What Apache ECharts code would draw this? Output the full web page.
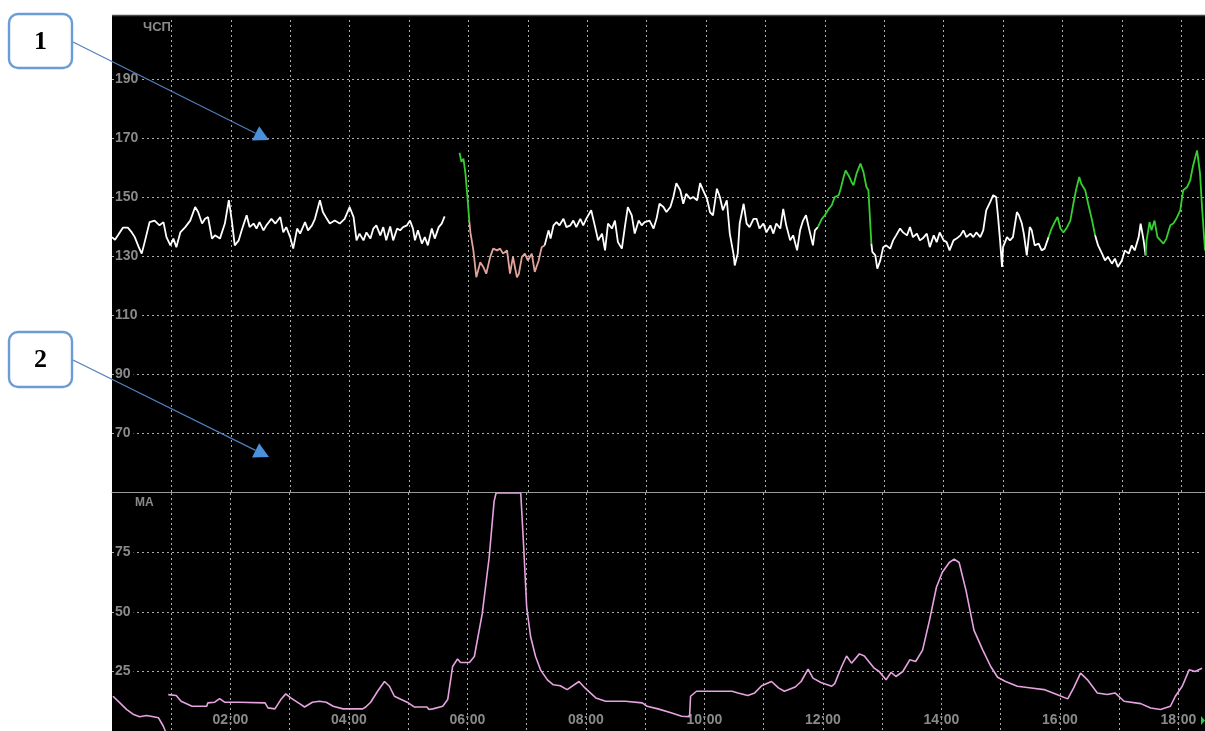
<!DOCTYPE html>
<html><head><meta charset="utf-8">
<script src="https://cdn.jsdelivr.net/npm/echarts@6/dist/echarts.min.js"></script>
<style>html,body{margin:0;padding:0;background:#fff}#c{width:1205px;height:731px}</style>
</head><body><div id="c"></div>
<script>
// Time in minutes from start of recording; FHR in bpm; MA in units (0-100)
const fhrWhite1 = [[0,136.4],[3,135.5],[6,137],[11,139.6],[16,139.6],[20,138],[23,136.4],[27,133],[30,130.8],[33,134.7],[38,141.5],[43,142],[48,140.4],[52,141.5],[55,136.4],[59,133.6],[62,135.9],[65,133],[69,138],[74,139.8],[79,142],[84,146.6],[87,144.9],[91,141],[94,142.6],[97,143.2],[101,135.9],[104,137],[109,135.9],[114,141],[118,148.9],[121,142],[124,133.6],[128,135.3],[131,138.7],[136,143.8],[139,139.8],[143,141],[146,139.3],[149,141.5],[153,138.7],[156,140.4],[161,142.6],[165,141],[170,143.2],[173,138],[176,139.8],[180,136.4],[183,132.5],[187,139.3],[190,137.6],[195,141.5],[198,138.7],[202,140.4],[205,142.6],[210,148.9],[213,144.9],[217,142.6],[220,141],[225,142],[230,141],[235,142.6],[240,146.6],[244,143.2],[247,135.3],[250,137.6],[254,135.3],[257,138],[261,135.9],[264,139.3],[267,140.4],[271,137],[274,139.8],[277,135.3],[281,140],[284,135.3],[288,139.3],[291,138.7],[294,139.8],[298,140.4],[301,142],[304,139.3],[306,135.3],[309,138.7],[313,134.2],[316,136.4],[319,133.6],[323,139.3],[326,135.9],[330,139.8],[333,141],[336,143.4]];
const fhrGreen1 = [[351,165],[353,161.9],[355,163],[357,157.9],[359,150],[361,141.5]];
const fhrSalmon = [[361,141.5],[362,138],[365,131.9],[368,122.8],[372,127.9],[375,126.3],[378,124],[382,129.7],[385,132.5],[389,131.9],[392,132.5],[395,130.8],[399,131.9],[402,124],[405,129.7],[409,122.8],[411,124],[414,129.7],[417,130.8],[420,128.5],[424,130.8],[427,124.6],[431,128.5],[434,133],[437,133.6]];
const fhrWhite2 = [[437,133.6],[441,138.7],[443,135.9],[446,140.4],[449,141.5],[452,140.4],[456,142.6],[459,139.8],[463,140.4],[466,142],[469,139.8],[473,142.6],[476,140.4],[479,142.6],[484,145.5],[488,139.8],[491,135.3],[495,137.6],[498,131.9],[501,141],[505,139.3],[508,142],[511,134.7],[515,132.5],[518,139.8],[521,146.6],[525,143.8],[528,137.6],[532,142],[535,140.4],[538,141.5],[543,142],[547,139.3],[550,142.6],[553,147.7],[557,146.6],[560,144.9],[564,146.6],[567,150],[570,154.7],[574,152.3],[577,147.7],[580,151.1],[584,149.4],[587,150],[591,148.9],[594,154.7],[597,152.3],[601,149.4],[604,144.9],[607,143.8],[611,152.8],[614,150],[617,145.5],[621,148.9],[624,137.6],[628,130.2],[629,126.8],[632,130.8],[634,141],[638,147.7],[641,141],[644,139.8],[648,142.6],[651,142.6],[654,139.3],[658,141],[661,138],[665,140.4],[668,137.6],[671,141],[675,139.3],[678,146],[681,140.4],[685,135.3],[688,137],[692,131.9],[695,138.7],[698,142],[701,143.8],[704,139.3],[708,133.6],[710,138.7],[713,139.8]];
const fhrGreen2 = [[713,139.8],[717,142.6],[720,143.8],[724,146],[727,147.2],[730,150],[734,150.6],[736,152.8],[739,156.8],[741,159],[744,157.3],[747,155.1],[749,154],[752,157.9],[756,161.3],[759,158.5],[762,153.4],[764,152.3],[767,134.2]];
const fhrWhite3 = [[767,134.2],[768,131.4],[771,130.2],[773,125.7],[776,128.5],[779,133],[782,133.6],[786,132.5],[789,135.3],[792,137],[796,139.3],[799,138],[803,137],[806,139.8],[809,136.4],[813,137.6],[816,135.3],[819,136],[823,137.6],[826,133],[830,137],[833,134.7],[836,138],[840,135.3],[843,134.7],[846,131.9],[850,135.3],[853,135.9],[857,137],[860,138.7],[863,136.4],[867,137.6],[870,136.4],[873,138],[877,136.4],[880,138.7],[883,145.5],[887,148.3],[890,150.6],[893,150],[895,143.2],[897,135.3],[899,126.3],[900,133],[904,136.4],[907,135.3],[910,136.4],[914,144.9],[916,143.8],[919,141],[921,137.6],[924,130.2],[927,139.8],[929,138.7],[932,133.6],[936,134.2],[939,131.9],[942,132.5],[946,136.4]];
const fhrGreen3 = [[946,136.4],[949,139.3],[953,142],[955,143.2],[958,139.3],[961,138],[964,139.3],[968,142],[971,147.7],[974,152.8],[977,156.8],[979,154.5],[983,152.3],[986,147.7],[990,142],[993,137]];
const fhrWhite4 = [[993,137],[996,133.6],[1000,130.8],[1003,128.5],[1006,129.7],[1010,127.4],[1013,129.1],[1016,126.3],[1020,128.5],[1023,131.9],[1027,130.8],[1030,133.6],[1033,131.9],[1037,136.4],[1039,141],[1042,135.3],[1044,130.2]];
const fhrGreen4 = [[1044,130.2],[1045,135.3],[1048,141.5],[1050,138.7],[1053,142],[1056,136.4],[1059,135.3],[1062,134.2],[1065,135.9],[1069,140.4],[1072,141],[1075,142.6],[1079,145.5],[1082,152.3],[1086,153.4],[1089,155.6],[1092,160.7],[1094,161.3],[1096,165.8],[1099,157.9],[1101,146.6],[1104,131.9]];
const maTrace = [[1,14.6],[8,11.8],[15,9],[22,6.9],[28,6],[35,6.5],[42,6],[47,5.6],[52,2],[54,0],[55,null],[57,15.3],[65,14.9],[70,12.5],[81,10.4],[96,10.4],[97,11.8],[104,12.1],[109,13.6],[114,12.1],[129,12.1],[155,11.8],[158,9.7],[165,9.3],[171,13.2],[176,15.6],[181,13.9],[190,11.5],[195,10.1],[203,12.1],[210,12.5],[217,12.1],[224,10.4],[234,9.3],[254,9.3],[257,10.1],[262,12.1],[269,16.7],[276,20.8],[281,18.8],[286,14.6],[293,13.2],[299,12.1],[306,10.1],[319,10.1],[321,9],[325,9.3],[335,10.4],[340,13.2],[345,27.1],[350,30.3],[353,28.8],[362,28.8],[367,31.3],[375,49.3],[382,72.9],[387,96.5],[389,100],[414,100],[417,77.1],[420,52.1],[424,39.6],[429,31.3],[434,25.7],[441,21.5],[447,19.4],[454,19],[461,17.4],[473,20.8],[479,18.1],[490,13.9],[500,12.5],[520,12.5],[537,11.8],[542,10.4],[553,9.3],[567,7.6],[577,6.2],[585,6],[586,14.6],[592,16.7],[628,16.7],[634,16],[644,14.9],[651,16],[658,19],[668,20.8],[675,18.1],[681,16.7],[692,18.5],[698,20.8],[705,26],[710,22.2],[718,20.4],[729,18.8],[732,19.9],[739,27.1],[744,31.5],[749,28.5],[757,32.4],[762,31.5],[772,26.4],[777,25],[784,21.5],[789,24.6],[794,22.9],[801,25],[808,29.9],[814,29.2],[821,34],[828,46.5],[835,60.4],[841,66.7],[848,70.8],[853,72.2],[858,70.8],[865,59],[873,42.4],[882,34],[890,27.1],[897,22.6],[905,20.8],[917,18.8],[931,18.1],[944,17.4],[957,15.3],[968,13.5],[974,18.1],[981,24.3],[988,21.5],[998,16],[1008,15.3],[1016,16],[1025,12.5],[1042,11.5],[1052,9.7],[1062,9],[1072,10.4],[1077,14.6],[1084,18.8],[1091,25.7],[1097,25],[1104,26.4]];

const fhrTicks = [70, 90, 110, 130, 150, 170, 190];
const maTicks = [25, 50, 75];
const fhrLabel = 'ЧСП';
const maLabel = 'MA';
const calloutLabels = ['1', '2'];

const GRAY = '#8a8a8a';
const gridLine = {show: true, showMinLine: false, showMaxLine: false, lineStyle: {color: 'rgba(215,215,215,0.8)', type: [2, 3], width: 1}};
const labelFont = {color: GRAY, fontFamily: 'Liberation Sans, Arial, sans-serif', fontWeight: 'bold', fontSize: 14};

function hhmm(v) { const h = Math.round(v / 60); return (h < 10 ? '0' : '') + h + ':00'; }

const chart = echarts.init(document.getElementById('c'), null, {renderer: 'canvas'});

function fhrSeries(data, color) {
  return {type: 'line', xAxisIndex: 0, yAxisIndex: 0, data: data, showSymbol: false, symbol: 'none',
    lineStyle: {color: color, width: 1.8}, clip: true, z: 5};
}

function arrow(x1, y1, tx, ty) {
  const dx = tx - x1, dy = ty - y1, L = Math.hypot(dx, dy);
  const ux = dx / L, uy = dy / L, nx = -uy, ny = ux, len = 15, hw = 8;
  const bx = tx - ux * len, by = ty - uy * len;
  return [
    {type: 'line', shape: {x1: x1, y1: y1, x2: bx, y2: by}, style: {stroke: '#4f7fbd', lineWidth: 1.2}, z: 20},
    {type: 'polygon', shape: {points: [[tx, ty], [bx + nx * hw, by + ny * hw], [bx - nx * hw, by - ny * hw]]}, style: {fill: '#4a90da'}, z: 20}
  ];
}

function callout(x, y, w, h, txt) {
  return [
    {type: 'rect', shape: {x: x, y: y, width: w, height: h, r: 9}, style: {fill: '#fff', stroke: '#6a9dd6', lineWidth: 2.4}, z: 21},
    {type: 'text', x: x + w / 2, y: y + h / 2 + 1, style: {text: txt, fill: '#000', font: 'bold 26px "Liberation Serif", "Times New Roman", serif', align: 'center', verticalAlign: 'middle'}, z: 22}
  ];
}

const option = {
  backgroundColor: '#ffffff',
  animation: false,
  grid: [
    {left: 112, right: 0, top: 20, height: 472},
    {left: 112, right: 0, top: 493, height: 238}
  ],
  xAxis: [
    {type: 'value', gridIndex: 0, min: 0, max: 1104, interval: 60,
      axisLine: {show: true, onZero: false, lineStyle: {color: '#9a9a9a', width: 1.2}}, axisTick: {show: false}, axisLabel: {show: false}, splitLine: gridLine},
    {type: 'value', gridIndex: 1, min: 0, max: 1104, interval: 60,
      axisLine: {show: false}, axisTick: {show: false},
      axisLabel: Object.assign({inside: true, margin: 4, formatter: v => (v > 0 && v % 120 === 0) ? hhmm(v) : ''}, labelFont),
      splitLine: gridLine}
  ],
  yAxis: [
    {type: 'value', gridIndex: 0, min: 50, max: 210, interval: 20,
      axisLine: {show: false}, axisTick: {show: false},
      axisLabel: Object.assign({inside: true, margin: 3, backgroundColor: '#000', padding: [0, 3, 0, 0], formatter: v => fhrTicks.indexOf(v) >= 0 ? String(v) : ''}, labelFont),
      splitLine: gridLine},
    {type: 'value', gridIndex: 1, min: 0, max: 100, interval: 25,
      axisLine: {show: false}, axisTick: {show: false},
      axisLabel: Object.assign({inside: true, margin: 3, backgroundColor: '#000', padding: [0, 3, 0, 0], formatter: v => maTicks.indexOf(v) >= 0 ? String(v) : ''}, labelFont),
      splitLine: gridLine}
  ],
  series: [
    fhrSeries(fhrWhite1, '#ffffff'),
    fhrSeries(fhrGreen1, '#35d02f'),
    fhrSeries(fhrSalmon, '#e3a29a'),
    fhrSeries(fhrWhite2, '#ffffff'),
    fhrSeries(fhrGreen2, '#35d02f'),
    fhrSeries(fhrWhite3, '#ffffff'),
    fhrSeries(fhrGreen3, '#35d02f'),
    fhrSeries(fhrWhite4, '#ffffff'),
    fhrSeries(fhrGreen4, '#35d02f'),
    {type: 'line', xAxisIndex: 1, yAxisIndex: 1, data: maTrace, showSymbol: false, symbol: 'none', connectNulls: false,
      lineStyle: {color: '#e6a3e0', width: 1.6}, clip: true, z: 5}
  ],
  graphic: [
    {type: 'rect', shape: {x: 112, y: 15, width: 1093, height: 716}, style: {fill: '#000'}, z: -10, silent: true},
    {type: 'line', shape: {x1: 112, y1: 15.5, x2: 1205, y2: 15.5}, style: {stroke: '#4a4a4a', lineWidth: 1.5}, z: -9},
    {type: 'text', x: 143, y: 21, style: {text: fhrLabel, fill: GRAY, font: 'bold 13px "Liberation Sans", Arial, sans-serif'}, z: 10},
    {type: 'text', x: 135, y: 497, style: {text: maLabel, fill: GRAY, font: 'bold 12px "Liberation Sans", Arial, sans-serif'}, z: 10},
    {type: 'polygon', shape: {points: [[1201, 716], [1205, 720.5], [1201, 725]]}, style: {fill: '#2ecc40'}, z: 10}
  ].concat(arrow(73, 42, 269, 140), arrow(73, 360, 269, 457),
           callout(9, 14, 63, 54, calloutLabels[0]), callout(9, 332, 63, 55, calloutLabels[1]))
};
chart.setOption(option);
</script>
</body></html>
